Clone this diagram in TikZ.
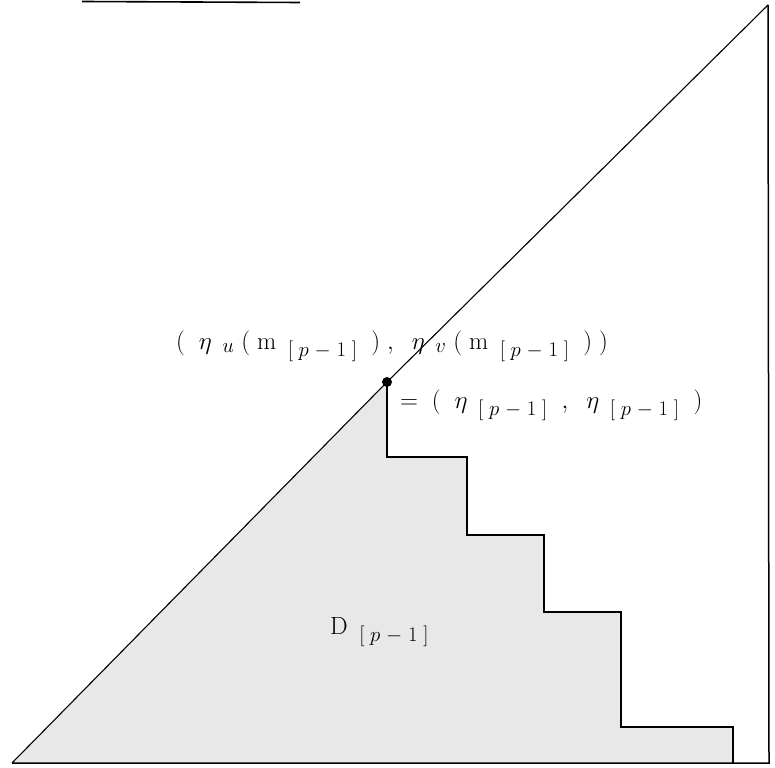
\documentclass[tikz,border=0pt]{standalone}
\begin{document}
\begin{tikzpicture}[x=1pt,y=-1pt,
  edge/.style={line width=1.5pt,line join=miter},
  thinedge/.style={line width=1.1pt},
  lbl/.style={inner sep=0pt,font=\fontsize{28}{32}\selectfont},
  shade/.style={fill=black!9}]
\useasboundingbox (0,0) rectangle (775,767);
\coordinate (bl) at (12,763);
\coordinate (apex) at (768,5);
\coordinate (br) at (769,763);
\coordinate (d) at (387,382);
\coordinate (s1) at (387,457);
\coordinate (s2) at (467,457);
\coordinate (s3) at (467,535);
\coordinate (s4) at (544,535);
\coordinate (s5) at (544,612);
\coordinate (s6) at (621,612);
\coordinate (s7) at (621,727);
\coordinate (s8) at (733,727);
\coordinate (s9) at (733,763);
\fill[shade] (bl) -- (d) -- (s1) -- (s2) -- (s3) -- (s4) -- (s5) -- (s6) -- (s7) -- (s8) -- (s9) -- cycle;
\draw[thinedge] (bl) -- (d) -- (apex);
\draw[edge] (apex) -- (br) -- (bl);
\draw[edge] (d) -- (s1) -- (s2) -- (s3) -- (s4) -- (s5) -- (s6) -- (s7) -- (s8) -- (s9);
\coordinate (t1) at (82,1.5);
\coordinate (t2) at (300,2.5);
\draw[line width=1.6pt] (t1) -- (t2);
\node[circle,fill=black,inner sep=0pt,minimum size=10pt] (dot) at (d) {};
\node[lbl,anchor=west] (top) at (176,346) {$(\;\;\eta_{\;\;u}\;(\;\mathrm{m}_{\;\;[\;p\;-\;1\;]}\;\;)\;,\;\;\eta_{\;\;v}\;(\;\mathrm{m}_{\;\;[\;p\;-\;1\;]}\;\;)\;)$};
\node[lbl,anchor=west] (eq) at (400,405) {$=\;(\;\;\eta_{\;\;[\;p\;-\;1\;]}\;\;,\;\;\eta_{\;\;[\;p\;-\;1\;]}\;\;)$};
\node[lbl,anchor=west] (D) at (330,632) {$\mathrm{D}_{\;\;[\;p\;-\;1\;]}$};
\end{tikzpicture}
\end{document}
